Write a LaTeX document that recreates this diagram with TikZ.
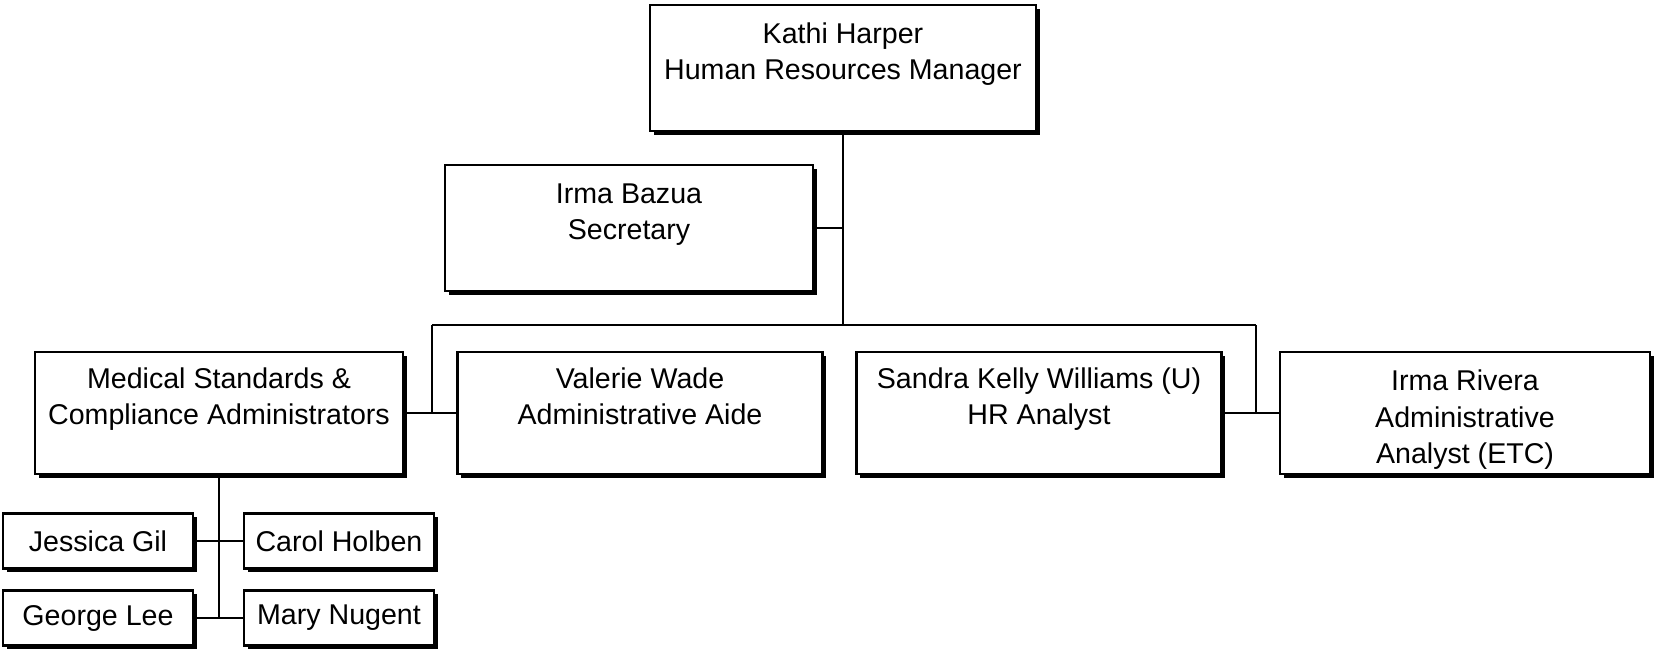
\documentclass[tikz,border=0pt]{standalone}
\usepackage{fontspec}
\setmainfont{Liberation Sans}
\usetikzlibrary{shadows}
\newcommand{\toppad}{\rule{0pt}{17pt}}

\begin{document}
\begin{tikzpicture}[
    x=0.5pt, y=-0.5pt,
    box/.style={rectangle, draw, line width=1.2pt, fill=white, align=center,
        font=\fontsize{14.3}{18.25}\selectfont, inner sep=0pt,
        drop shadow={shadow xshift=1.8pt, shadow yshift=-1.8pt, fill=black, opacity=1}},
    big/.style={box, minimum width=184pt, minimum height=61pt},
    small/.style={box, minimum width=95pt, minimum height=27.5pt},
    link/.style={line width=1.2pt}
]
\useasboundingbox (0,0) rectangle (1658,655);

\node[big, minimum width=193pt, minimum height=63pt] (kathi) at (843,68) {\toppad Kathi Harper\\Human Resources Manager\\ \strut};
\node[big, minimum height=63pt] (bazua) at (629,228) {\toppad Irma Bazua\\Secretary\\ \strut};

\node[big] (medical) at (219,413) {\toppad Medical Standards \&\\Compliance Administrators\\ \strut};
\node[big, minimum width=182.5pt] (valerie) at (640,413) {\toppad Valerie Wade\\Administrative Aide\\ \strut};
\node[big, minimum width=182.5pt] (sandra) at (1039,413) {\toppad Sandra Kelly Williams (U)\\HR Analyst\\ \strut};
\node[big, minimum width=185pt] (rivera) at (1465,413) {\toppad Irma Rivera\\Administrative\\Analyst (ETC)};

\node[small] (jessica) at (98,541) {Jessica Gil};
\node[small] (carol) at (339,541) {Carol Holben};
\node[small] (george) at (98,618) {George Lee};
\node[small] (mary) at (339,618) {Mary Nugent};

\coordinate (busmid) at (843,325);
\coordinate (busL) at (432,325);
\coordinate (busR) at (1256,325);

\draw[link] (kathi) -- (busmid);
\draw[link] (bazua.east) -- (bazua.east -| busmid);
\draw[link] (busL) -- (busR);
\draw[link] (busL) -- (busL |- medical.east);
\draw[link] (busR) -- (busR |- sandra.east);
\draw[link] (medical.east) -- (valerie.west);
\draw[link] (sandra.east) -- (rivera.west);

\draw[link] (medical.south) -- (medical.south |- mary.west);
\draw[link] (jessica.east) -- (carol.west);
\draw[link] (george.east) -- (mary.west);

\end{tikzpicture}
\end{document}
